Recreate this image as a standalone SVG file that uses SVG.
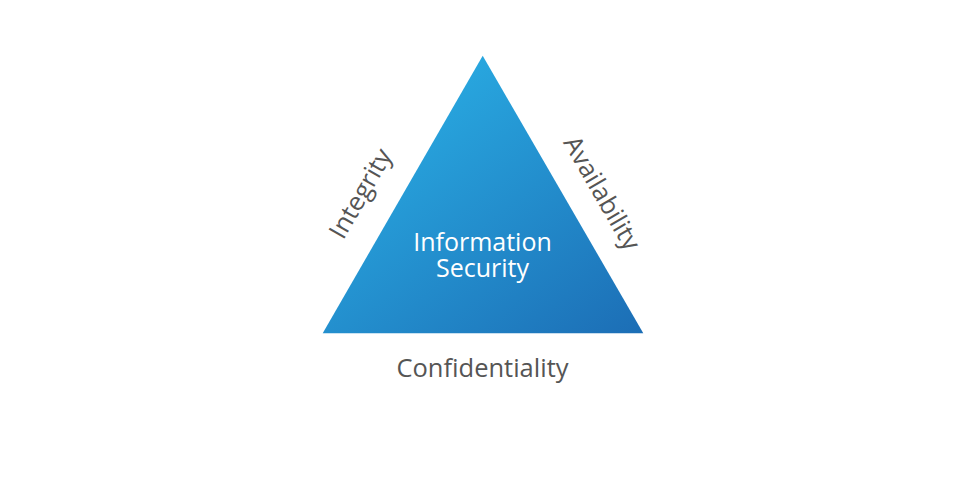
<svg xmlns="http://www.w3.org/2000/svg" width="964" height="479" viewBox="0 0 964 479">
  <defs>
    <linearGradient id="tri" gradientUnits="userSpaceOnUse" x1="430" y1="60" x2="640" y2="340">
      <stop offset="0" stop-color="#29abe2"/>
      <stop offset="1" stop-color="#1c6db5"/>
    </linearGradient>
  </defs>
  <style>
    .lbl { font-family: "Open Sans", "Liberation Sans", sans-serif; font-size: 25.5px; fill: #555555; text-anchor: middle; }
    .inner { font-family: "Open Sans", "Liberation Sans", sans-serif; font-size: 25px; fill: #ffffff; text-anchor: middle; }
  </style>
  <rect width="964" height="479" fill="#ffffff"/>
  <g id="triangle">
    <polygon points="482.7,55.7 643.3,333.3 322.7,333.3" fill="url(#tri)"/>
    <text class="inner" x="482.5" y="250.5">Information</text>
    <text class="inner" x="482.5" y="277">Security</text>
  </g>
  <g id="integrity">
    <text class="lbl" transform="translate(368,198) rotate(-60)">Integrity</text>
  </g>
  <g id="availability">
    <text class="lbl" transform="translate(594.5,197.5) rotate(60)">Availability</text>
  </g>
  <g id="confidentiality">
    <text class="lbl" x="482.5" y="377">Confidentiality</text>
  </g>
  <g id="connectors"/>
</svg>
